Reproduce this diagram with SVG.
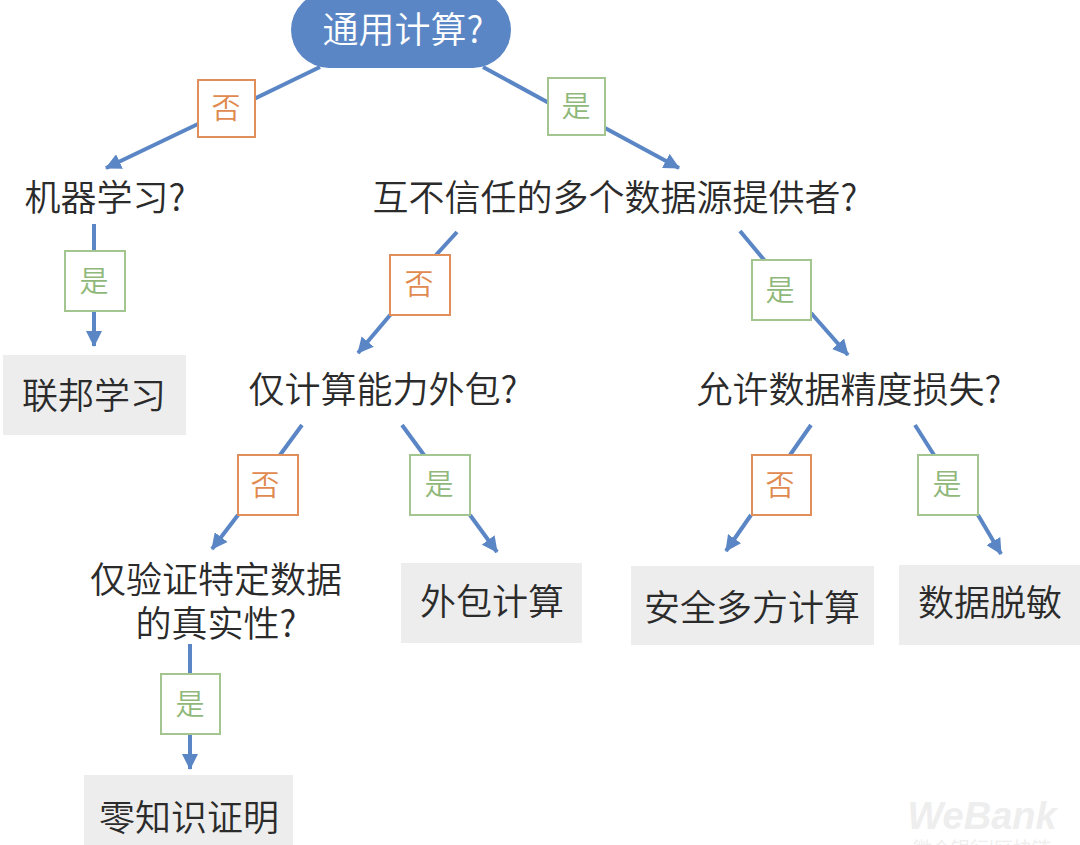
<svg xmlns="http://www.w3.org/2000/svg" width="1080" height="845" viewBox="0 0 1080 845">
<style>
text{font-family:"Noto Sans CJK SC","Noto Sans",sans-serif;text-anchor:middle}
.t{font-size:36px;font-weight:350;fill:#2b2b2b}
.c{fill:none;stroke:#5b86c5;stroke-width:4;marker-end:url(#a)}
.p{fill:none;stroke:#5b86c5;stroke-width:4}
.no rect{fill:#fff;stroke:#e08f5a;stroke-width:2}
.no text{font-size:29px;font-weight:350;fill:#e08a50}
.yes rect{fill:#fff;stroke:#a3c58f;stroke-width:2}
.yes text{font-size:29px;font-weight:350;fill:#8fb87a}
.box{fill:#ededed}
</style>
<defs><marker id="a" markerUnits="userSpaceOnUse" markerWidth="18" markerHeight="16" refX="15" refY="8" orient="auto"><path d="M0 0L16 8L0 16Z" fill="#5b86c5"/></marker></defs>
<rect width="1080" height="845" fill="#fff"/>
<g id="connectors">
<path class="p" d="M320 67L254 99"/><path class="c" d="M198 124L106 168"/>
<path class="p" d="M483 67L549 103"/><path class="c" d="M605 128L679 168"/>
<path class="p" d="M94 224V251"/><path class="c" d="M94 310V346"/>
<path class="p" d="M457 232L436 255"/><path class="c" d="M391 314L358 353"/>
<path class="p" d="M740 231L765 261"/><path class="c" d="M811 313L848 355"/>
<path class="p" d="M302 425L280 455"/><path class="c" d="M238 515L212 549"/>
<path class="p" d="M402 425L424 455"/><path class="c" d="M470 515L497 552"/>
<path class="p" d="M811 425L790 455"/><path class="c" d="M751 515L726 551"/>
<path class="p" d="M915 425L934 455"/><path class="c" d="M978 515L1001 554"/>
<path class="p" d="M190 644V675"/><path class="c" d="M190 734V769"/>
</g>
<g id="n-root"><rect x="291" y="-8" width="220" height="76" rx="38" fill="#5b86c5"/><text x="403" y="43" font-size="36" font-weight="350" fill="#fff">通用计算?</text></g>
<g id="n-ml"><text class="t" x="105" y="211">机器学习?</text></g>
<g id="n-trust"><text class="t" x="615" y="211">互不信任的多个数据源提供者?</text></g>
<g id="n-outsource"><text class="t" x="383" y="403">仅计算能力外包?</text></g>
<g id="n-loss"><text class="t" x="849" y="403">允许数据精度损失?</text></g>
<g id="n-verify"><text class="t" x="216" y="593">仅验证特定数据</text><text class="t" x="216" y="637">的真实性?</text></g>
<g id="n-fl"><rect class="box" x="3" y="355" width="183" height="80"/><text class="t" x="94" y="409">联邦学习</text></g>
<g id="n-oc"><rect class="box" x="401" y="563" width="181" height="80"/><text class="t" x="492" y="615">外包计算</text></g>
<g id="n-mpc"><rect class="box" x="631" y="566" width="243" height="79"/><text class="t" x="752" y="621">安全多方计算</text></g>
<g id="n-dm"><rect class="box" x="899" y="565" width="181" height="80"/><text class="t" x="990" y="616">数据脱敏</text></g>
<g id="n-zk"><rect class="box" x="84" y="775" width="209" height="70"/><text class="t" x="189" y="831">零知识证明</text></g>
<g id="l1" class="no"><rect x="198" y="80" width="57" height="57"/><text x="226" y="119">否</text></g>
<g id="l2" class="yes"><rect x="548" y="78" width="57" height="57"/><text x="576" y="117">是</text></g>
<g id="l3" class="yes"><rect x="65" y="251" width="60" height="60"/><text x="94" y="292">是</text></g>
<g id="l4" class="no"><rect x="390" y="255" width="60" height="60"/><text x="419" y="295">否</text></g>
<g id="l5" class="yes"><rect x="752" y="260" width="59" height="60"/><text x="780" y="301">是</text></g>
<g id="l6" class="no"><rect x="238" y="455" width="60" height="60"/><text x="265" y="496">否</text></g>
<g id="l7" class="yes"><rect x="410" y="455" width="60" height="60"/><text x="439" y="495">是</text></g>
<g id="l8" class="no"><rect x="752" y="455" width="59" height="60"/><text x="780" y="496">否</text></g>
<g id="l9" class="yes"><rect x="918" y="455" width="60" height="60"/><text x="947" y="495">是</text></g>
<g id="l10" class="yes"><rect x="161" y="674" width="59" height="60"/><text x="190" y="715">是</text></g>
<g id="watermark" fill="#eeeeee"><text x="982" y="829" font-size="38" font-weight="700" font-style="italic" style="font-family:'Liberation Sans',sans-serif">WeBank</text><text x="982" y="856" font-size="19">微众银行|区块链</text></g>
</svg>
